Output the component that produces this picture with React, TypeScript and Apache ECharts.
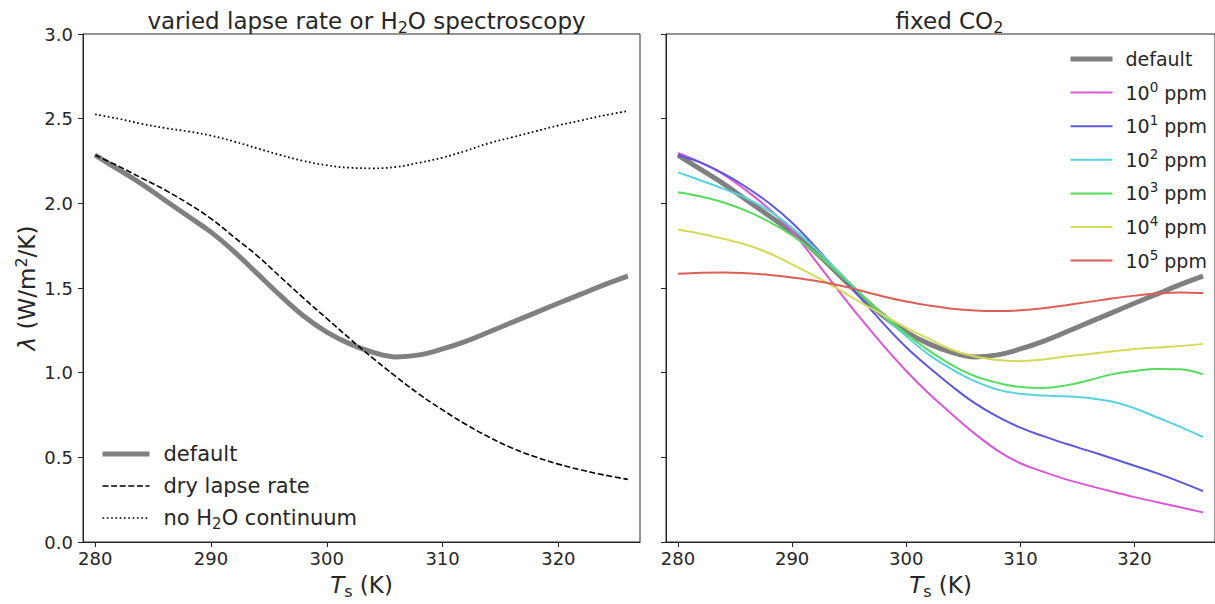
import React, { useEffect, useRef } from 'react';
import * as echarts from 'echarts';

// Surface temperature (K)
const T = [280, 282, 284, 286, 288, 290, 292, 294, 296, 298, 300, 302, 304, 306, 308, 310, 312, 314, 316, 318, 320, 322, 324, 326];

// Left panel
const defaultLam = [2.285, 2.2, 2.115, 2.02, 1.925, 1.83, 1.715, 1.585, 1.455, 1.335, 1.24, 1.17, 1.12, 1.093, 1.105, 1.14, 1.185, 1.24, 1.297, 1.353, 1.41, 1.465, 1.52, 1.57];
const dryLapse = [2.285, 2.22, 2.15, 2.08, 2.0, 1.91, 1.8, 1.69, 1.565, 1.44, 1.32, 1.2, 1.085, 0.975, 0.872, 0.78, 0.695, 0.62, 0.555, 0.503, 0.46, 0.425, 0.395, 0.37];
const noContinuum = [2.525, 2.5, 2.47, 2.445, 2.425, 2.4, 2.365, 2.325, 2.285, 2.25, 2.225, 2.21, 2.207, 2.215, 2.24, 2.27, 2.31, 2.355, 2.39, 2.425, 2.46, 2.49, 2.52, 2.545];

// Right panel (fixed CO2)
const co2e0 = [2.297, 2.24, 2.17, 2.075, 1.965, 1.835, 1.665, 1.49, 1.32, 1.16, 1.01, 0.875, 0.755, 0.64, 0.54, 0.465, 0.415, 0.37, 0.333, 0.298, 0.265, 0.235, 0.205, 0.175];
const co2e1 = [2.285, 2.24, 2.175, 2.095, 2.0, 1.885, 1.745, 1.595, 1.44, 1.29, 1.15, 1.03, 0.92, 0.82, 0.74, 0.675, 0.625, 0.58, 0.538, 0.495, 0.45, 0.405, 0.355, 0.3];
const co2e2 = [2.183, 2.135, 2.085, 2.03, 1.955, 1.855, 1.735, 1.6, 1.465, 1.335, 1.215, 1.105, 1.02, 0.95, 0.9, 0.875, 0.865, 0.86, 0.85, 0.83, 0.79, 0.735, 0.68, 0.62];
const co2e3 = [2.065, 2.04, 2.005, 1.955, 1.89, 1.81, 1.71, 1.59, 1.465, 1.34, 1.23, 1.13, 1.045, 0.98, 0.94, 0.915, 0.91, 0.925, 0.955, 0.99, 1.01, 1.022, 1.02, 0.99];
const co2e4 = [1.845, 1.82, 1.79, 1.755, 1.705, 1.64, 1.57, 1.495, 1.415, 1.34, 1.265, 1.2, 1.135, 1.095, 1.075, 1.068, 1.078, 1.095, 1.11, 1.125, 1.14, 1.148, 1.157, 1.17];
const co2e5 = [1.584, 1.59, 1.592, 1.587, 1.577, 1.562, 1.543, 1.518, 1.485, 1.45, 1.42, 1.397, 1.378, 1.367, 1.364, 1.368, 1.38, 1.398, 1.418, 1.438, 1.455, 1.468, 1.474, 1.47];

const co2Values = [co2e0, co2e1, co2e2, co2e3, co2e4, co2e5];
const co2Names = ['10^0 ppm', '10^1 ppm', '10^2 ppm', '10^3 ppm', '10^4 ppm', '10^5 ppm'];
const co2Colors = ['#db57d3', '#5f57db', '#57d3db', '#57db5f', '#d3db57', '#db5f57'];

const xTicks = [280, 290, 300, 310, 320];
const leftNames = ['default', 'dry lapse rate', 'no H2O continuum'];

const FONT = 'DejaVu Sans';
const TXT = '#262626';

const pairs = (ys: number[]) => T.map((t, i) => [t, ys[i]]);

export default function App() {
  const ref = useRef<HTMLDivElement>(null);

  useEffect(() => {
    document.body.style.margin = '0';
    if (!ref.current) return;
    const chart = echarts.init(ref.current, undefined, { renderer: 'svg' });

    const xAxisBase = (gridIndex: number) => ({
      type: 'value',
      gridIndex,
      min: 278.95,
      max: 327.05,
      name: '{i|T}{s|s} (K)',
      nameLocation: 'middle',
      nameGap: 29,
      nameTextStyle: {
        color: TXT,
        fontFamily: FONT,
        fontSize: 23,
        rich: {
          i: { fontFamily: FONT, fontSize: 23, fontStyle: 'italic', color: TXT, lineHeight: 28 },
          s: { fontFamily: FONT, fontSize: 16, color: TXT, verticalAlign: 'bottom', lineHeight: 14 },
        },
      },
      axisLine: { show: true, lineStyle: { color: TXT, width: 1 } },
      axisTick: { show: true, length: 5, inside: false, customValues: xTicks, lineStyle: { color: TXT, width: 1 } },
      axisLabel: { show: true, customValues: xTicks, color: TXT, fontFamily: FONT, fontSize: 18, margin: 7 },
      splitLine: { show: false },
    });

    const yAxisBase = (gridIndex: number, showLabels: boolean) => ({
      type: 'value',
      gridIndex,
      min: 0,
      max: 3,
      interval: 0.5,
      name: showLabels ? '{l|λ} (W/m{p|2}/K)' : '',
      nameLocation: 'middle',
      nameGap: 42,
      nameTextStyle: {
        color: TXT,
        fontFamily: FONT,
        fontSize: 23,
        rich: {
          l: { fontFamily: FONT, fontSize: 23, fontStyle: 'italic', color: TXT, lineHeight: 28 },
          p: { fontFamily: FONT, fontSize: 16, color: TXT, verticalAlign: 'top', lineHeight: 16 },
        },
      },
      axisLine: { show: true, lineStyle: { color: TXT, width: 1 } },
      axisTick: { show: true, length: 5, inside: false, lineStyle: { color: TXT, width: 1 } },
      axisLabel: {
        show: showLabels,
        color: TXT,
        fontFamily: FONT,
        fontSize: 18,
        margin: 10,
        formatter: (v: number) => v.toFixed(1),
      },
      splitLine: { show: false },
    });

    const series: any[] = [
      {
        name: 'default', type: 'line', xAxisIndex: 0, yAxisIndex: 0, data: pairs(defaultLam),
        symbol: 'none', smooth: 0.4, lineStyle: { color: '#808080', width: 5 }, itemStyle: { color: '#808080' },
      },
      {
        name: 'dry lapse rate', type: 'line', xAxisIndex: 0, yAxisIndex: 0, data: pairs(dryLapse),
        symbol: 'none', smooth: 0.4, lineStyle: { color: '#000000', width: 1.6, type: [6, 2.6] }, itemStyle: { color: '#000000' },
      },
      {
        name: 'no H2O continuum', type: 'line', xAxisIndex: 0, yAxisIndex: 0, data: pairs(noContinuum),
        symbol: 'none', smooth: 0.4, lineStyle: { color: '#000000', width: 1.7, type: [1.7, 2.6] }, itemStyle: { color: '#000000' },
      },
      {
        name: 'default', type: 'line', xAxisIndex: 1, yAxisIndex: 1, data: pairs(defaultLam),
        symbol: 'none', smooth: 0.4, lineStyle: { color: '#808080', width: 5 }, itemStyle: { color: '#808080' },
      },
    ];
    co2Values.forEach((vals, i) => {
      series.push({
        name: co2Names[i], type: 'line', xAxisIndex: 1, yAxisIndex: 1, data: pairs(vals),
        symbol: 'none', smooth: 0.4, lineStyle: { color: co2Colors[i], width: 2 }, itemStyle: { color: co2Colors[i] },
      });
    });

    const option: any = {
      animation: false,
      backgroundColor: '#ffffff',
      textStyle: { fontFamily: FONT },
      title: [
        {
          text: 'varied lapse rate or H{b|2}O spectroscopy',
          left: 361.5, top: 2, textAlign: 'center',
          textStyle: {
            color: TXT, fontFamily: FONT, fontSize: 23, fontWeight: 'normal', lineHeight: 28,
            rich: { b: { fontFamily: FONT, fontSize: 16, color: TXT, verticalAlign: 'bottom', lineHeight: 14 } },
          },
        },
        {
          text: 'fixed CO{b|2}',
          left: 944.5, top: 2, textAlign: 'center',
          textStyle: {
            color: TXT, fontFamily: FONT, fontSize: 23, fontWeight: 'normal', lineHeight: 28,
            rich: { b: { fontFamily: FONT, fontSize: 16, color: TXT, verticalAlign: 'bottom', lineHeight: 14 } },
          },
        },
      ],
      legend: [
        {
          data: leftNames,
          orient: 'vertical',
          left: 100, top: 441, padding: 0,
          itemWidth: 47, itemHeight: 14, itemGap: 6,
          selectedMode: false,
          itemStyle: { opacity: 0, borderWidth: 0 },
          lineStyle: { width: 'inherit' },
          formatter: (name: string) => name.replace('H2O', 'H{b|2}O'),
          textStyle: {
            color: TXT, fontFamily: FONT, fontSize: 21, lineHeight: 26, padding: [0, 0, 0, 9],
            rich: { b: { fontFamily: FONT, fontSize: 15, color: TXT, verticalAlign: 'bottom', lineHeight: 14 } },
          },
        },
        {
          data: ['default', ...co2Names],
          orient: 'vertical',
          left: 1068, top: 46, padding: 0,
          itemWidth: 42, itemHeight: 14, itemGap: 7.6,
          selectedMode: false,
          itemStyle: { opacity: 0, borderWidth: 0 },
          lineStyle: { width: 'inherit' },
          formatter: (name: string) => name.replace(/\^(\d)/, '{p|$1}'),
          textStyle: {
            color: TXT, fontFamily: FONT, fontSize: 19, lineHeight: 26, padding: [0, 0, 0, 8],
            rich: { p: { fontFamily: FONT, fontSize: 13.5, color: TXT, verticalAlign: 'top', lineHeight: 15 } },
          },
        },
      ],
      grid: [
        { left: 83, top: 34, width: 557, height: 515, show: true, borderColor: TXT, borderWidth: 1, backgroundColor: 'transparent' },
        { left: 666, top: 34, width: 557, height: 515, show: true, borderColor: TXT, borderWidth: 1, backgroundColor: 'transparent' },
      ],
      xAxis: [xAxisBase(0), xAxisBase(1)],
      yAxis: [yAxisBase(0, true), yAxisBase(1, false)],
      series,
    };

    chart.setOption(option);
    return () => chart.dispose();
  }, []);

  return <div ref={ref} style={{ width: 1215, height: 604 }} />;
}
